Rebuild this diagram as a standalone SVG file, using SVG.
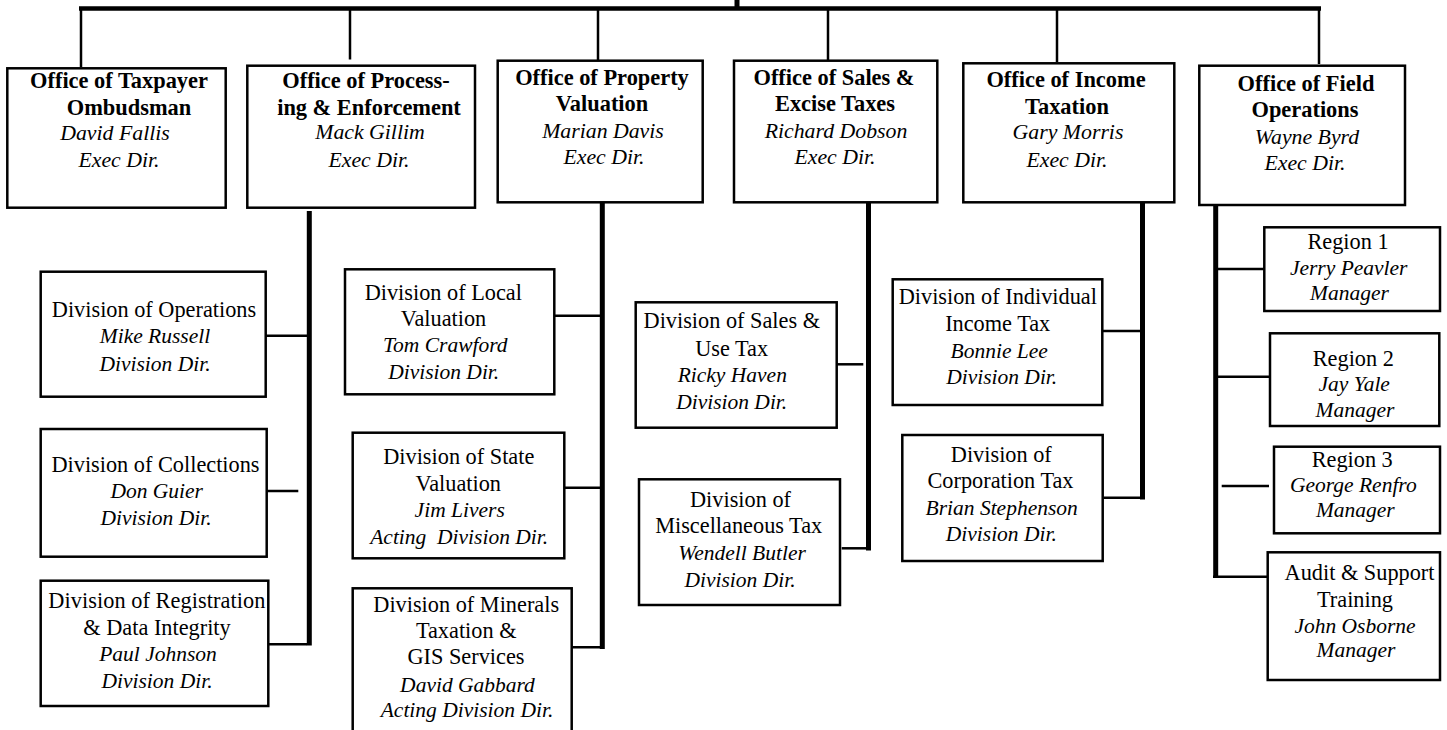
<svg xmlns="http://www.w3.org/2000/svg" width="1447" height="730" viewBox="0 0 1447 730">
<style>
.box{fill:#fff;stroke:#000;stroke-width:2.5}
.thin{stroke:#000;stroke-width:2.5;fill:none}
.thick{stroke:#000;stroke-width:5;fill:none}
.bar{stroke:#000;stroke-width:4.5;fill:none}
text{font-family:'Liberation Serif','Times New Roman','DejaVu Serif',serif;text-anchor:middle;fill:#000}
.h{font-weight:bold;font-size:22.4px}
.n{font-style:italic;font-size:21.8px}
.d{font-size:22.3px}
.i{font-style:italic;font-size:21.5px;white-space:pre}
</style>
<rect width="1447" height="730" fill="#fff"/>
<g id="connectors">
<line class="bar" x1="79" y1="8.5" x2="1321" y2="8.5"/>
<line class="thick" x1="737" y1="-2" x2="737" y2="8"/>
<line class="thin" x1="81" y1="8" x2="81" y2="67"/>
<line class="thin" x1="350" y1="8" x2="350" y2="59.5"/>
<line class="thin" x1="598" y1="8" x2="598" y2="62"/>
<line class="thin" x1="828" y1="8" x2="828" y2="60"/>
<line class="thin" x1="1057" y1="8" x2="1057" y2="62"/>
<line class="thin" x1="1319" y1="8" x2="1319" y2="64"/>
<line class="thick" x1="309.3" y1="211" x2="309.3" y2="645.5"/>
<line class="thin" x1="265.7" y1="335.7" x2="307" y2="335.7"/>
<line class="thin" x1="264" y1="491" x2="298.3" y2="491"/>
<line class="thin" x1="265.7" y1="644.3" x2="307" y2="644.3"/>
<line class="thick" x1="602.3" y1="202" x2="602.3" y2="649"/>
<line class="thin" x1="552.3" y1="315.7" x2="601" y2="315.7"/>
<line class="thin" x1="564.3" y1="487.7" x2="601" y2="487.7"/>
<line class="thin" x1="568.3" y1="647.3" x2="601" y2="647.3"/>
<line class="thick" x1="868.5" y1="202" x2="868.5" y2="550.5"/>
<line class="thin" x1="836.7" y1="364.3" x2="863.3" y2="364.3"/>
<line class="thin" x1="841.7" y1="548.3" x2="867" y2="548.3"/>
<line class="thick" x1="1142.5" y1="199" x2="1142.5" y2="499.5"/>
<line class="thin" x1="1097.3" y1="331" x2="1140" y2="331"/>
<line class="thin" x1="1103.3" y1="497.7" x2="1141" y2="497.7"/>
<line class="thick" x1="1215.7" y1="199" x2="1215.7" y2="578"/>
<line class="thin" x1="1216" y1="269" x2="1264.3" y2="269"/>
<line class="thin" x1="1216" y1="376.7" x2="1270" y2="376.7"/>
<line class="thin" x1="1221.7" y1="486" x2="1269" y2="486"/>
<line class="thin" x1="1213" y1="576.7" x2="1267.7" y2="576.7"/>
</g>
<g id="office-ombudsman">
<rect class="box" x="7.3" y="68.3" width="218.4" height="139.4"/>
<text class="h" x="119" y="88">Office of Taxpayer</text>
<text class="h" x="129" y="115">Ombudsman</text>
<text class="n" x="115" y="140">David Fallis</text>
<text class="n" x="119" y="167">Exec Dir.</text>
</g>
<g id="office-processing">
<rect class="box" x="247.3" y="65.7" width="227.7" height="142"/>
<text class="h" x="366" y="88">Office of Process-</text>
<text class="h" x="369" y="115">ing &amp; Enforcement</text>
<text class="n" x="370" y="139">Mack Gillim</text>
<text class="n" x="369" y="167">Exec Dir.</text>
</g>
<g id="office-property">
<rect class="box" x="497.7" y="60.7" width="205" height="141.6"/>
<text class="h" x="602" y="85">Office of Property</text>
<text class="h" x="602" y="111">Valuation</text>
<text class="n" x="603" y="138">Marian Davis</text>
<text class="n" x="604" y="164">Exec Dir.</text>
</g>
<g id="office-sales">
<rect class="box" x="734" y="60.7" width="203.3" height="141.6"/>
<text class="h" x="834" y="85">Office of Sales &amp;</text>
<text class="h" x="835" y="111">Excise Taxes</text>
<text class="n" x="836" y="138">Richard Dobson</text>
<text class="n" x="835" y="164">Exec Dir.</text>
</g>
<g id="office-income">
<rect class="box" x="963.3" y="63.3" width="211" height="139"/>
<text class="h" x="1066" y="87">Office of Income</text>
<text class="h" x="1067" y="114">Taxation</text>
<text class="n" x="1068" y="139">Gary Morris</text>
<text class="n" x="1067" y="167">Exec Dir.</text>
</g>
<g id="office-field">
<rect class="box" x="1199.3" y="65.7" width="205.7" height="139.3"/>
<text class="h" x="1306" y="91">Office of Field</text>
<text class="h" x="1305" y="117">Operations</text>
<text class="n" x="1307" y="144">Wayne Byrd</text>
<text class="n" x="1305" y="170">Exec Dir.</text>
</g>
<g id="div-operations">
<rect class="box" x="40.7" y="271.7" width="225" height="125"/>
<text class="d" x="154" y="316.7">Division of Operations</text>
<text class="i" x="155" y="343.3">Mike Russell</text>
<text class="i" x="155" y="370.7">Division Dir.</text>
</g>
<g id="div-collections">
<rect class="box" x="40.7" y="429" width="226" height="127.7"/>
<text class="d" x="155.5" y="471.7">Division of Collections</text>
<text class="i" x="156.7" y="498.3">Don Guier</text>
<text class="i" x="156" y="525">Division Dir.</text>
</g>
<g id="div-registration">
<rect class="box" x="40.7" y="580.7" width="227.6" height="125.3"/>
<text class="d" x="48.3" y="608.3" style="text-anchor:start" textLength="217" lengthAdjust="spacing">Division of Registration</text>
<text class="d" x="157" y="635">&amp; Data Integrity</text>
<text class="i" x="158" y="661">Paul Johnson</text>
<text class="i" x="157" y="687.7">Division Dir.</text>
</g>
<g id="div-local-valuation">
<rect class="box" x="345" y="269.3" width="209.3" height="125"/>
<text class="d" x="443.3" y="300">Division of Local</text>
<text class="d" x="443.5" y="325.7">Valuation</text>
<text class="i" x="445.3" y="352.3">Tom Crawford</text>
<text class="i" x="443.7" y="379">Division Dir.</text>
</g>
<g id="div-state-valuation">
<rect class="box" x="352.7" y="432.7" width="211.6" height="125.6"/>
<text class="d" x="458.8" y="464">Division of State</text>
<text class="d" x="458.3" y="491">Valuation</text>
<text class="i" x="459.7" y="517.3">Jim Livers</text>
<text class="i" x="459.2" y="544">Acting  Division Dir.</text>
</g>
<g id="div-minerals">
<rect class="box" x="352.7" y="588.3" width="219" height="170"/>
<text class="d" x="466.2" y="611.7">Division of Minerals</text>
<text class="d" x="466.2" y="638.3">Taxation &amp;</text>
<text class="d" x="466" y="664.3">GIS Services</text>
<text class="i" x="467.5" y="691.7">David Gabbard</text>
<text class="i" x="467" y="716.7">Acting Division Dir.</text>
</g>
<g id="div-sales-use">
<rect class="box" x="635.7" y="302.3" width="201" height="125.4"/>
<text class="d" x="731.8" y="328.3">Division of Sales &amp;</text>
<text class="d" x="731.7" y="355.7">Use Tax</text>
<text class="i" x="732.3" y="381.7">Ricky Haven</text>
<text class="i" x="731.7" y="409">Division Dir.</text>
</g>
<g id="div-misc">
<rect class="box" x="639" y="479.3" width="201" height="125.7"/>
<text class="d" x="740.5" y="506.7">Division of</text>
<text class="d" x="738.7" y="533.3">Miscellaneous Tax</text>
<text class="i" x="742" y="560">Wendell Butler</text>
<text class="i" x="740" y="586.7">Division Dir.</text>
</g>
<g id="div-individual">
<rect class="box" x="892.7" y="279.3" width="209.6" height="125.7"/>
<text class="d" x="997.8" y="304.3">Division of Individual</text>
<text class="d" x="997.7" y="331">Income Tax</text>
<text class="i" x="999.2" y="357.7">Bonnie Lee</text>
<text class="i" x="1001.7" y="384.3">Division Dir.</text>
</g>
<g id="div-corporation">
<rect class="box" x="902.3" y="435" width="200.4" height="126"/>
<text class="d" x="1001.3" y="461.7">Division of</text>
<text class="d" x="1000.5" y="488.3">Corporation Tax</text>
<text class="i" x="1001.7" y="515">Brian Stephenson</text>
<text class="i" x="1001.3" y="541">Division Dir.</text>
</g>
<g id="region-1">
<rect class="box" x="1264.3" y="227.3" width="175.7" height="83.7"/>
<text class="d" x="1348" y="249.3">Region 1</text>
<text class="i" x="1348.7" y="275">Jerry Peavler</text>
<text class="i" x="1349.5" y="300">Manager</text>
</g>
<g id="region-2">
<rect class="box" x="1270" y="333.3" width="169.3" height="92.7"/>
<text class="d" x="1353.3" y="366">Region 2</text>
<text class="i" x="1354.2" y="391">Jay Yale</text>
<text class="i" x="1355" y="416.7">Manager</text>
</g>
<g id="region-3">
<rect class="box" x="1274" y="446.7" width="166" height="86.6"/>
<text class="d" x="1352.2" y="466.7">Region 3</text>
<text class="i" x="1353.3" y="491.7">George Renfro</text>
<text class="i" x="1355.3" y="516.7">Manager</text>
</g>
<g id="audit-support">
<rect class="box" x="1267.7" y="552.3" width="172.3" height="127.7"/>
<text class="d" x="1359.5" y="580">Audit &amp; Support</text>
<text class="d" x="1355" y="606.7">Training</text>
<text class="i" x="1355" y="633.3">John Osborne</text>
<text class="i" x="1356" y="656.7">Manager</text>
</g>
</svg>
